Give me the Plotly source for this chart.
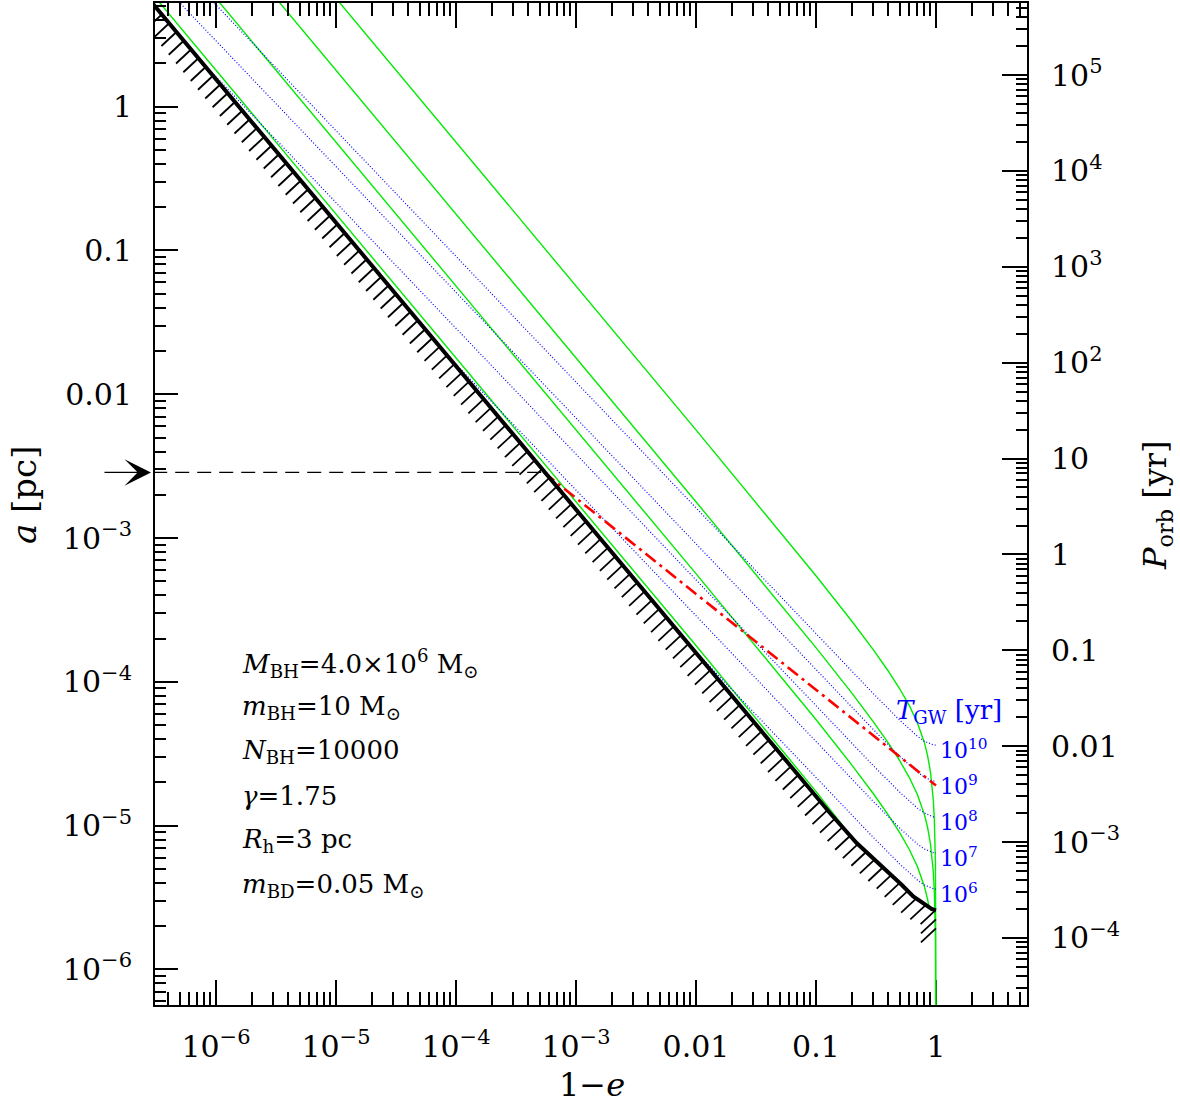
import numpy as np
import plotly.graph_objects as go

# ---------------- data ----------------
# black boundary (1-e, a [pc])
boundary_x = [3.0e-7, 0.05, 0.1308, 0.2183, 0.30, 0.4137, 0.52, 0.647, 0.75, 0.8366, 0.92, 1.0]
boundary_a = [5.16, 3.13e-5, 1.225e-5, 7.58e-6, 5.97e-6, 4.69e-6, 3.87e-6, 3.22e-6, 2.94e-6, 2.75e-6, 2.64e-6, 2.58e-6]

# green tracks
track1_x = [3.0e-7, 0.01, 0.1, 0.2, 0.2183]
track1_a = [5.983, 1.789e-4, 1.731e-5, 8.314e-6, 7.54e-6]
track2_x = [1.0e-6, 0.01, 0.1, 0.2, 0.3, 0.4, 0.5, 0.6, 0.7, 0.8, 0.85, 0.88]
track2_a = [5.676, 5.656e-4, 5.474e-5, 2.629e-5, 1.6745e-5, 1.1905e-5, 8.921e-6, 6.832e-6, 5.206e-6, 3.792e-6, 3.097e-6, 2.665e-6]
track3_x = [3.0e-6, 0.01, 0.1, 0.2, 0.3, 0.4, 0.5, 0.6, 0.7, 0.8, 0.85, 0.9, 0.95, 0.97, 0.99, 0.999, 0.9999]
track3_a = [5.983, 1.7886e-3, 1.7309e-4, 8.314e-5, 5.295e-5, 3.765e-5, 2.821e-5, 2.1605e-5, 1.6463e-5, 1.1991e-5, 9.794e-6, 7.472e-6, 4.782e-6, 3.457e-6, 1.726e-6, 4.03e-7, 9.4e-8]
track4_x = [1.0e-5, 0.01, 0.1, 0.2, 0.3, 0.4, 0.5, 0.6, 0.7, 0.8, 0.85, 0.9, 0.95, 0.97, 0.99, 0.999, 0.9999]
track4_a = [5.676, 5.656e-3, 5.474e-4, 2.629e-4, 1.6745e-4, 1.1905e-4, 8.921e-5, 6.832e-5, 5.206e-5, 3.792e-5, 3.097e-5, 2.363e-5, 1.512e-5, 1.093e-5, 5.458e-6, 1.2745e-6, 2.977e-7]

# blue dotted T_GW lines
tgw10_x = [9.0e-7, 0.1, 0.3, 0.5, 0.6, 0.7, 0.8, 0.9, 0.95, 1.0]
tgw10_a = [5.60, 2.16e-4, 8.30e-5, 5.40e-5, 4.68e-5, 4.19e-5, 3.87e-5, 3.69e-5, 3.65e-5, 3.63e-5]
tgw9_x = [4.0e-7, 0.1, 0.3, 0.5, 0.6, 0.7, 0.8, 0.9, 0.95, 1.0]
tgw9_a = [6.40, 1.213e-4, 4.67e-5, 3.03e-5, 2.63e-5, 2.36e-5, 2.18e-5, 2.07e-5, 2.05e-5, 2.04e-5]
tgw8_x = [7.2e-7, 0.1, 0.3, 0.5, 0.6, 0.7, 0.8, 0.9, 0.95, 1.0]
tgw8_a = [2.15, 6.82e-5, 2.62e-5, 1.706e-5, 1.479e-5, 1.324e-5, 1.225e-5, 1.167e-5, 1.153e-5, 1.148e-5]
tgw7_x = [7.2e-5, 0.1, 0.3, 0.5, 0.6, 0.7, 0.8, 0.9, 0.95, 1.0]
tgw7_a = [2.153e-2, 3.84e-5, 1.476e-5, 9.59e-6, 8.32e-6, 7.45e-6, 6.89e-6, 6.56e-6, 6.49e-6, 6.46e-6]
tgw6_x = [7.2e-3, 0.1, 0.3, 0.5, 0.6, 0.7, 0.8, 0.9, 0.95, 1.0]
tgw6_a = [2.153e-4, 2.158e-5, 8.30e-6, 5.40e-6, 4.68e-6, 4.19e-6, 3.87e-6, 3.69e-6, 3.65e-6, 3.63e-6]
tgw_labels = ["10<sup>10</sup>", "10<sup>9</sup>", "10<sup>8</sup>", "10<sup>7</sup>", "10<sup>6</sup>"]

# red dash-dot line and black dashed line
red_x = [5.41e-4, 1.0]
red_a = [2.86e-3, 1.9e-5]
dash_x = [3.0e-7, 5.41e-4]
dash_a = [2.86e-3, 2.86e-3]

# ticks
x_tick_vals = [1e-6, 1e-5, 1e-4, 1e-3, 1e-2, 1e-1, 1]
x_tick_text = ["10<sup>\u22126</sup>", "10<sup>\u22125</sup>", "10<sup>\u22124</sup>", "10<sup>\u22123</sup>", "0.01", "0.1", "1"]
y_tick_vals = [1, 1e-1, 1e-2, 1e-3, 1e-4, 1e-5, 1e-6]
y_tick_text = ["1", "0.1", "0.01", "10<sup>\u22123</sup>", "10<sup>\u22124</sup>", "10<sup>\u22125</sup>", "10<sup>\u22126</sup>"]
p_tick_vals = [1e5, 1e4, 1e3, 1e2, 10, 1, 0.1, 0.01, 1e-3, 1e-4]
p_tick_text = ["10<sup>5</sup>", "10<sup>4</sup>", "10<sup>3</sup>", "10<sup>2</sup>", "10", "1", "0.1", "0.01",
               "10<sup>\u22123</sup>", "10<sup>\u22124</sup>"]

param_lines = [
    "<i>M</i><sub>BH</sub>=4.0\u00d710<sup>6</sup> M<sub>\u2299</sub>",
    "<i>m</i><sub>BH</sub>=10 M<sub>\u2299</sub>",
    "<i>N</i><sub>BH</sub>=10000",
    "<i>\u03b3</i>=1.75",
    "<i>R</i><sub>h</sub>=3 pc",
    "<i>m</i><sub>BD</sub>=0.05 M<sub>\u2299</sub>",
]

# ---------------- layout geometry ----------------
W, H = 1180, 1107
ML, MR, MT, MB = 155, 153, 3, 102
PW, PH = W - ML - MR, H - MT - MB
XR = [-6.508, -6.508 + PW / 120.0]
YR = [0.721 - PH / 143.8, 0.721]
PR = [1.5 * YR[0] + 4.6706, 1.5 * YR[1] + 4.6706]
sx = PW / (XR[1] - XR[0])
sy = PH / (YR[1] - YR[0])

GREEN = "#00ec00"
BLUE = "#0000ff"
SERIF = "DejaVu Serif"

fig = go.Figure()

for tx, ta in [(track1_x, track1_a), (track2_x, track2_a), (track3_x, track3_a), (track4_x, track4_a)]:
    fig.add_trace(go.Scatter(x=tx, y=ta, mode="lines", line=dict(color=GREEN, width=1.4), hoverinfo="skip"))

for tx, ta in [(tgw10_x, tgw10_a), (tgw9_x, tgw9_a), (tgw8_x, tgw8_a), (tgw7_x, tgw7_a), (tgw6_x, tgw6_a)]:
    fig.add_trace(go.Scatter(x=tx, y=ta, mode="lines", line=dict(color=BLUE, width=1.2, dash="1px,2px"), hoverinfo="skip"))

fig.add_trace(go.Scatter(x=red_x, y=red_a, mode="lines",
                         line=dict(color="#ff0000", width=2.6, dash="13px,5px,3px,5px"), hoverinfo="skip"))
fig.add_trace(go.Scatter(x=dash_x, y=dash_a, mode="lines",
                         line=dict(color="black", width=1.3, dash="14px,8px"), hoverinfo="skip"))

# hatch marks along the boundary (decoration in pixel space)
bx = (np.log10(boundary_x) - XR[0]) * sx
by = (YR[1] - np.log10(boundary_a)) * sy
seg = np.hypot(np.diff(bx), np.diff(by))
cum = np.concatenate([[0], np.cumsum(seg)])
step = 11.4
s_vals = np.arange(2.0, cum[-1], step)
hx = list(np.interp(s_vals, cum, bx))
hy = list(np.interp(s_vals, cum, by))
for k in (1, 2):
    hx.append(bx[-1])
    hy.append(by[-1] + k * 9.0)
hxs, hys = [], []
for px, py in zip(hx, hy):
    for qx, qy in ((px, py), (px - 15.0, py + 14.0)):
        hxs.append(10 ** (XR[0] + qx / sx))
        hys.append(10 ** (YR[1] - qy / sy))
    hxs.append(None)
    hys.append(None)
fig.add_trace(go.Scatter(x=hxs, y=hys, mode="lines", line=dict(color="black", width=1.8), hoverinfo="skip"))

fig.add_trace(go.Scatter(x=boundary_x, y=boundary_a, mode="lines", line=dict(color="black", width=4), hoverinfo="skip"))

# dummy trace for secondary axes
fig.add_trace(go.Scatter(x=[1e-3], y=[1.0], xaxis="x2", yaxis="y2", mode="markers",
                         marker=dict(opacity=0), hoverinfo="skip"))


def minor_vals(lo, hi):
    out = []
    for d in range(int(np.floor(lo)) - 1, int(np.ceil(hi)) + 1):
        for m in range(2, 10):
            v = m * 10.0 ** d
            if lo <= np.log10(v) <= hi:
                out.append(v)
    return out


tickfont = dict(family=SERIF, size=30, color="black")
common = dict(type="log", showgrid=False, zeroline=False, showline=True, linecolor="black", linewidth=2,
              ticks="inside", tickcolor="black", tickwidth=2)

fig.update_layout(
    width=W, height=H,
    margin=dict(l=ML, r=MR, t=MT, b=MB, pad=0),
    paper_bgcolor="white", plot_bgcolor="white",
    showlegend=False,
    xaxis=dict(**common, range=XR, tickmode="array", tickvals=x_tick_vals, ticktext=x_tick_text,
               ticklen=25, tickfont=tickfont, ticklabelstandoff=14, layer="below traces",
               minor=dict(tickmode="array", tickvals=minor_vals(*XR), ticks="inside", ticklen=13,
                          tickwidth=1.6, tickcolor="black", showgrid=False)),
    xaxis2=dict(**common, range=XR, overlaying="x", side="top", anchor="y", tickmode="array",
                tickvals=x_tick_vals, showticklabels=False, ticklen=25,
                minor=dict(tickmode="array", tickvals=minor_vals(*XR), ticks="inside", ticklen=13,
                           tickwidth=1.6, tickcolor="black", showgrid=False)),
    yaxis=dict(**common, range=YR, tickmode="array", tickvals=y_tick_vals, ticktext=y_tick_text,
               ticklen=23, tickfont=tickfont, ticklabelstandoff=15,
               minor=dict(tickmode="array", tickvals=minor_vals(*YR), ticks="inside", ticklen=11,
                          tickwidth=1.6, tickcolor="black", showgrid=False)),
    yaxis2=dict(**common, range=PR, overlaying="y", side="right", anchor="x", tickmode="array",
                tickvals=p_tick_vals, ticktext=p_tick_text, ticklen=25, tickfont=tickfont,
                ticklabelstandoff=16,
                minor=dict(tickmode="array", tickvals=minor_vals(*PR), ticks="inside", ticklen=11,
                           tickwidth=1.6, tickcolor="black", showgrid=False)),
)


def px2paper_x(px):
    return (px - ML) / PW


def px2paper_y(py):
    return (MT + PH - py) / PH


ann = []
# axis titles
ann.append(dict(text="<i>a</i> [pc]", x=px2paper_x(24), y=px2paper_y(495), xref="paper", yref="paper",
                textangle=-90, showarrow=False, font=dict(family=SERIF, size=34, color="black"),
                xanchor="center", yanchor="middle"))
ann.append(dict(text="1\u2212<i>e</i>", x=px2paper_x(592), y=px2paper_y(1085), xref="paper", yref="paper",
                showarrow=False, font=dict(family=SERIF, size=32, color="black"),
                xanchor="center", yanchor="middle"))
ann.append(dict(text="<i>P</i><sub>orb</sub> [yr]", x=px2paper_x(1157), y=px2paper_y(505), xref="paper",
                yref="paper", textangle=-90, showarrow=False, font=dict(family=SERIF, size=32, color="black"),
                xanchor="center", yanchor="middle"))
# parameter block
for i, t in enumerate(param_lines):
    ann.append(dict(text=t, x=px2paper_x(240), y=px2paper_y(663 + 44.4 * i), xref="paper", yref="paper",
                    showarrow=False, font=dict(family=SERIF, size=26, color="black"),
                    xanchor="left", yanchor="middle"))
# T_GW labels
ann.append(dict(text="<i>T</i><sub>GW</sub> [yr]", x=px2paper_x(894), y=px2paper_y(712), xref="paper",
                yref="paper", showarrow=False, font=dict(family=SERIF, size=26, color=BLUE),
                xanchor="left", yanchor="middle"))
for lab, ta in zip(tgw_labels, [tgw10_a, tgw9_a, tgw8_a, tgw7_a, tgw6_a]):
    ann.append(dict(text=lab, x=0, y=float(np.log10(ta[-1])), xref="x", yref="y", xshift=2, yshift=-4,
                    showarrow=False, font=dict(family=SERIF, size=22, color=BLUE),
                    xanchor="left", yanchor="middle"))
# arrow at left
ann.append(dict(text="", x=px2paper_x(151), y=float(np.log10(dash_a[0])), xref="paper", yref="y",
                ax=-48, ay=0, showarrow=True, arrowhead=3, arrowsize=3.4, arrowwidth=1.3, arrowcolor="black"))
fig.update_layout(annotations=ann)

fig.write_html("out.html")
